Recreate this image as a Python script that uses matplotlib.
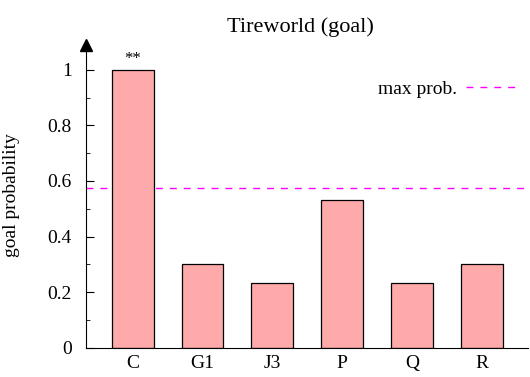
import matplotlib.pyplot as plt

planners = ["C", "G1", "J3", "P", "Q", "R"]
goal_prob = [1.0, 0.3, 0.2333, 0.5333, 0.2333, 0.3]
max_prob = 0.575
marks = ["**", "", "", "", "", ""]

plt.rcParams['font.family'] = ['Liberation Serif', 'DejaVu Serif']

fig = plt.figure(figsize=(5.30, 3.77), dpi=100)
ax = fig.add_axes([0.162, 0.077, 0.834, 0.812])

x = list(range(len(planners)))
bars = ax.bar(x, goal_prob, width=0.6, color='#ffaaaa', edgecolor='black', linewidth=0.9, zorder=2)
ax.axhline(max_prob, color='magenta', linestyle=(0, (5, 5)), linewidth=1, zorder=1, label='max prob.')

for xi, v, m in zip(x, goal_prob, marks):
    if m:
        ax.text(xi, v + 0.008, m, ha='center', va='bottom', fontsize=12)

ax.set_xlim(-0.67, 5.66)
ax.set_ylim(0, 1.1)
ax.set_xticks(x)
ax.set_xticklabels(planners, fontsize=14)
ax.set_yticks([0, 0.2, 0.4, 0.6, 0.8, 1.0])
ax.set_yticklabels(["0", "0.2", "0.4", "0.6", "0.8", "1"], fontsize=14)
ax.set_yticks([0.1, 0.3, 0.5, 0.7, 0.9], minor=True)
ax.tick_params(axis='x', length=0, pad=5)
ax.tick_params(axis='y', which='major', direction='in', length=6, pad=10)
ax.tick_params(axis='y', which='minor', direction='in', length=3)

ax.spines['top'].set_visible(False)
ax.spines['right'].set_visible(False)
ax.plot(0, 0.99, '^k', markersize=8, transform=ax.transAxes, clip_on=False)

ax.set_ylabel('goal probability', fontsize=14, labelpad=20)
ax.set_title('Tireworld (goal)', fontsize=16, pad=7, x=0.485)

ax.legend(loc='upper right', bbox_to_anchor=(0.975, 0.875), borderaxespad=0, borderpad=0,
          frameon=False, markerfirst=False, handlelength=2.6, handletextpad=0.5,
          fontsize=14)

fig.savefig('out.png', dpi=100)
